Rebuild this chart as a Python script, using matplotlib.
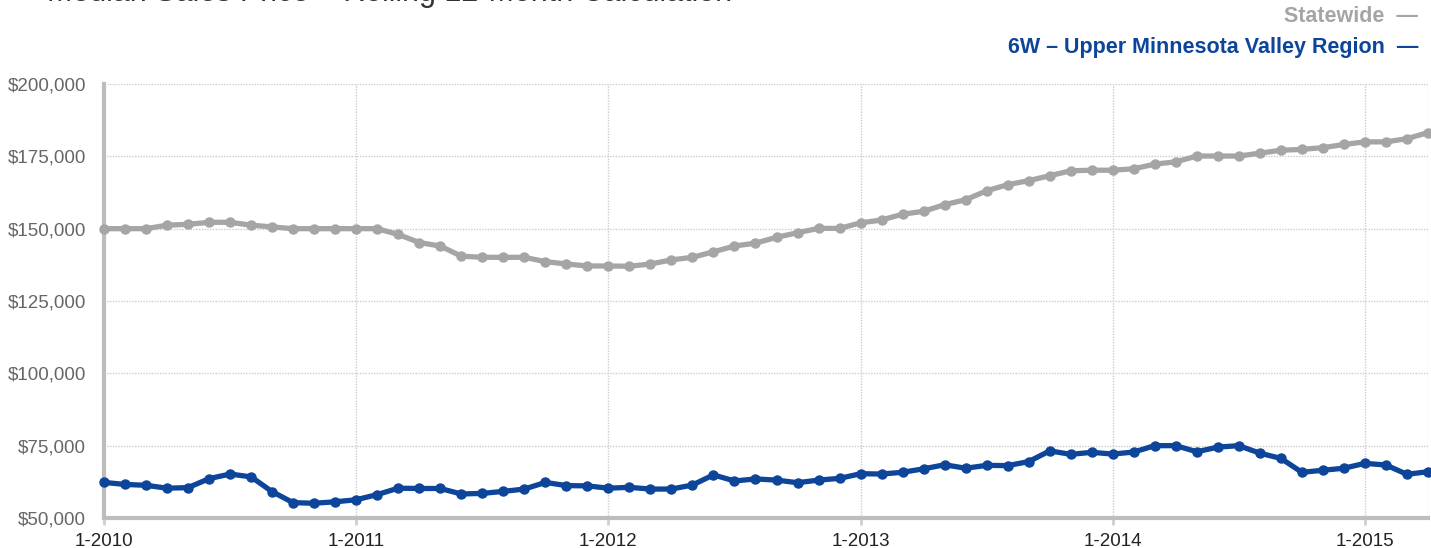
import numpy as np
import matplotlib
matplotlib.use("Agg")
import matplotlib.pyplot as plt

plt.rcParams.update({"font.family": ["Liberation Sans", "DejaVu Sans"]})

# monthly values, 1-2010 through 4-2015
months = [f"{m}-{y}" for y in range(2010, 2016) for m in range(1, 13)][:64]

statewide = [150000, 150000, 150000, 151200, 151500, 152200, 152200, 151200, 150600, 150000, 150000, 150000,
             150000, 150000, 148000, 145200, 144000, 140500, 140100, 140100, 140100, 138600, 137800, 137100,
             137100, 137000, 137800, 139200, 140100, 142000, 144000, 145000, 147000, 148600, 150100, 150100,
             152000, 153000, 155000, 156000, 158300, 160000, 163100, 165200, 166600, 168300, 170000, 170200,
             170200, 170700, 172300, 173100, 175100, 175100, 175100, 176100, 177100, 177400, 178000, 179100,
             180000, 180000, 181100, 183200]

region_6w = [62300, 61600, 61300, 60300, 60500, 63600, 65200, 64200, 59100, 55300, 55100, 55600,
             56300, 58100, 60300, 60200, 60200, 58300, 58500, 59200, 60000, 62300, 61200, 61100,
             60300, 60600, 60000, 60000, 61400, 64900, 62800, 63500, 63100, 62200, 63100, 63700,
             65300, 65200, 65800, 67000, 68400, 67200, 68200, 68100, 69500, 73200, 72000, 72700,
             72100, 72800, 75000, 75000, 72900, 74500, 75000, 72400, 70600, 65800, 66500, 67200,
             68900, 68300, 65100, 66000]

y_ticks = [50000, 75000, 100000, 125000, 150000, 175000, 200000]
x_tick_idx = [0, 12, 24, 36, 48, 60]

gray = "#a5a5a5"
blue = "#0c4599"

fig = plt.figure(figsize=(14.31, 5.48), dpi=100)
ax = fig.add_axes([104 / 1431, 30 / 548, 1324 / 1431, 434 / 548])

x = np.arange(len(months))
ax.plot(x, statewide, color=gray, lw=3.8, marker="o", ms=6.5, clip_on=False, zorder=3)
ax.plot(x, region_6w, color=blue, lw=3.8, marker="o", ms=6.5, clip_on=False, zorder=4)

ax.set_xlim(0, 63)
ax.set_ylim(50000, 200000)
ax.set_yticks(y_ticks)
ax.set_yticklabels([f"${v:,.0f}" for v in y_ticks])
ax.set_xticks(x_tick_idx)
ax.set_xticklabels([months[i] for i in x_tick_idx])

ax.grid(True, color="#cccccc", ls=(0, (1, 1)), lw=1)
ax.axvline(63, color="#cccccc", ls=(0, (1, 1)), lw=1)
for s in ["top", "right"]:
    ax.spines[s].set_visible(False)
for s in ["left", "bottom"]:
    ax.spines[s].set_color("#bdbdbd")
    ax.spines[s].set_linewidth(3)
ax.tick_params(axis="y", length=0, pad=13, labelsize=13.5, labelcolor="#666666")
ax.tick_params(axis="x", length=5, width=2, color="#cfcfcf", pad=6, labelsize=13.5, labelcolor="#222222")

fig.text(1418 / 1431, 1 - 17 / 548, "Statewide  \u2014", ha="right", va="center",
         fontsize=15.5, fontweight="bold", color=gray)
fig.text(1418 / 1431, 1 - 48 / 548, "6W \u2013 Upper Minnesota Valley Region  \u2014", ha="right", va="center",
         fontsize=15.5, fontweight="bold", color=blue)
# title sits mostly above the top edge, as in the source
fig.text(47 / 1431, 1 - 1 / 548, "Median Sales Price \u2013 Rolling 12-Month Calculation", ha="left",
         va="baseline", fontsize=22, color="#333333")

fig.savefig("out.png", dpi=100)
